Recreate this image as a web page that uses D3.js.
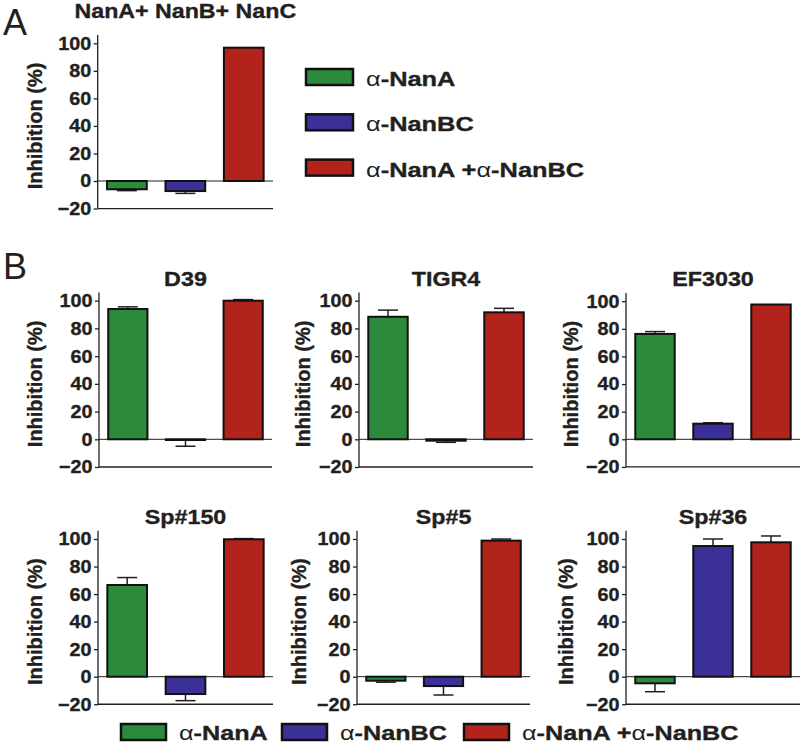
<!DOCTYPE html>
<html><head><meta charset="utf-8">
<script src="https://cdn.jsdelivr.net/npm/d3@7"></script>
<style>
body{margin:0;background:#fff;}
text{font-family:"Liberation Sans",Arial,sans-serif;fill:#231f20;}
</style></head>
<body>
<svg id="c" width="800" height="746"></svg>
<script>
// ---- data ----
const treatments = ["α-NanA", "α-NanBC", "α-NanA +α-NanBC"];
const panelTitles = ["NanA+ NanB+ NanC", "D39", "TIGR4", "EF3030", "Sp#150", "Sp#5", "Sp#36"];
const meansA      = [-6.0, -7.3, 96.8];
const errA        = [1.0, 1.7, 0.0];
const meansD39    = [94.0, -0.5, 100.0];
const errD39      = [1.6, 4.5, 0.8];
const meansTIGR4  = [88.4, -1.0, 91.6];
const errTIGR4    = [4.8, 1.2, 2.9];
const meansEF3030 = [76.3, 11.3, 97.6];
const errEF3030   = [1.7, 0.7, 0.0];
const meansSp150  = [66.6, -12.6, 99.8];
const errSp150    = [5.4, 4.8, 0.5];
const meansSp5    = [-2.9, -6.8, 98.8];
const errSp5      = [1.1, 6.5, 1.2];
const meansSp36   = [-4.8, 94.9, 97.6];
const errSp36     = [6.1, 5.1, 4.6];
const yTicks      = [-20, 0, 20, 40, 60, 80, 100];
const yLabel      = "Inhibition (%)";

// ---- styles / layout ----
const colors = ["#2b8a3b", "#3b2f98", "#b2231b"];
const INK = "#231f20";
const layout = [
  {x0: 97.7, x1: 273, y100: 43.3, y0: 181, lab: 63, ty: 18, tsize: 20, tsx: 1.16},
  {x0: 99,  x1: 272, y100: 300.7, y0: 439.3, lab: 64},
  {x0: 359, x1: 533, y100: 300.7, y0: 439.3, lab: 56},
  {x0: 626, x1: 800, y100: 301.2, y0: 439.3, lab: 55},
  {x0: 98,  x1: 273, y100: 539, y0: 676.7, lab: 63},
  {x0: 357, x1: 530, y100: 539, y0: 676.7, lab: 58},
  {x0: 626, x1: 800, y100: 539, y0: 676.7, lab: 60}
];
const seriesMeans = [meansA, meansD39, meansTIGR4, meansEF3030, meansSp150, meansSp5, meansSp36];
const seriesErr   = [errA, errD39, errTIGR4, errEF3030, errSp150, errSp5, errSp36];

const svg = d3.select("#c");

function heavy(sel, w) { return sel.attr("stroke", INK).attr("stroke-width", w).attr("stroke-linejoin", "round"); }

seriesMeans.forEach((means, pi) => {
  const L = layout[pi];
  const y = d3.scaleLinear().domain([0, 100]).range([L.y0, L.y100]);
  const x = d3.scaleBand().domain(treatments).range([L.x0, L.x1]).paddingInner(0.32).paddingOuter(0.16);
  const g = svg.append("g");
  const yTop = y(106);

  // y axis
  const ax = d3.axisLeft(y).tickValues(yTicks).tickSize(4).tickPadding(2).tickSizeOuter(0);
  const axG = g.append("g").attr("transform", `translate(${L.x0},0)`).call(ax);
  axG.select(".domain").remove();
  axG.selectAll(".tick line").attr("stroke", INK).attr("stroke-width", 1.3);
  const tt = axG.selectAll(".tick text").attr("font-family", '"Liberation Sans",Arial,sans-serif')
     .attr("font-weight", "bold").attr("font-size", 18.5).attr("fill", INK)
     .attr("transform", "scale(1.07,1)");
  heavy(tt, 0.35);
  g.append("line").attr("x1", L.x0).attr("x2", L.x0).attr("y1", yTop).attr("y2", y(-20))
    .attr("stroke", INK).attr("stroke-width", 1.3);
  // bottom axis at -20
  g.append("line").attr("x1", L.x0).attr("x2", L.x1).attr("y1", y(-20)).attr("y2", y(-20))
    .attr("stroke", INK).attr("stroke-width", 1.3);
  // zero line
  g.append("line").attr("x1", L.x0).attr("x2", L.x1).attr("y1", y(0)).attr("y2", y(0))
    .attr("stroke", INK).attr("stroke-width", 1);

  // error bars (one-sided)
  const err = seriesErr[pi];
  treatments.forEach((t, i) => {
    const v = means[i], e = err[i];
    if (e <= 0) return;
    const cx = x(t) + x.bandwidth() / 2;
    const tip = v >= 0 ? v + e : v - e;
    g.append("line").attr("x1", cx).attr("x2", cx).attr("y1", y(v)).attr("y2", y(tip))
      .attr("stroke", INK).attr("stroke-width", 1.5);
    g.append("line").attr("x1", cx - 10).attr("x2", cx + 10).attr("y1", y(tip)).attr("y2", y(tip))
      .attr("stroke", INK).attr("stroke-width", 1.5);
  });

  // bars
  g.selectAll("rect.bar").data(means).enter().append("rect").attr("class", "bar")
    .attr("x", (d, i) => x(treatments[i]))
    .attr("width", x.bandwidth())
    .attr("y", d => Math.min(y(d), y(0)))
    .attr("height", d => Math.abs(y(d) - y(0)))
    .attr("fill", (d, i) => colors[i])
    .attr("stroke", "#111").attr("stroke-width", 2);

  // y label
  const midY = (y(100) + y(-20)) / 2;
  const yl = g.append("text").attr("transform", `translate(${L.x0 - L.lab},${midY}) rotate(-90)`)
    .attr("text-anchor", "middle").attr("dominant-baseline", "central")
    .attr("font-weight", "bold").attr("font-size", 20).text(yLabel);
  heavy(yl, 0.35);

  // title
  const cx = (L.x0 + L.x1) / 2;
  const ty = L.ty !== undefined ? L.ty : L.y100 - 15;
  const tsz = L.tsize || 21, tsx = L.tsx || 1.11;
  const tl = g.append("text").attr("transform", `translate(${cx},${ty}) scale(${tsx},1)`)
    .attr("text-anchor", "middle").attr("font-weight", "bold").attr("font-size", tsz)
    .text(panelTitles[pi]);
  heavy(tl, 0.35);
});

// panel letters
svg.append("text").attr("x", 3).attr("y", 35).attr("font-size", 36).text("A");
svg.append("text").attr("x", 3).attr("y", 279).attr("font-size", 36).text("B");

// legend helper: alpha in normal weight
function legendText(sel, label, size) {
  const parts = label.split("α");
  parts.forEach((p, k) => {
    if (k > 0) sel.append("tspan").attr("font-weight", "normal").attr("stroke-width", 0).text("α");
    if (p) sel.append("tspan").attr("font-weight", "bold").text(p);
  });
  sel.attr("font-size", size);
  heavy(sel, 0.35);
}

// legend for panel A (vertical)
treatments.forEach((t, i) => {
  const yy = 69 + i * 45.3;
  svg.append("rect").attr("x", 306).attr("y", yy).attr("width", 47).attr("height", 16)
    .attr("fill", colors[i]).attr("stroke", "#111").attr("stroke-width", 2.5);
  const tx = svg.append("text").attr("transform", `translate(366,${yy + 17}) scale(1.21,1)`);
  legendText(tx, t, 21);
});

// bottom legend (horizontal)
const bottomSwatchX = [121, 282, 464];
treatments.forEach((t, i) => {
  const lx = bottomSwatchX[i];
  svg.append("rect").attr("x", lx).attr("y", 724).attr("width", 45).attr("height", 16)
    .attr("fill", colors[i]).attr("stroke", "#111").attr("stroke-width", 2.5);
  const tx = svg.append("text").attr("transform", `translate(${lx + 58},740) scale(1.2,1)`);
  legendText(tx, t, 21);
});
</script>
</body></html>
